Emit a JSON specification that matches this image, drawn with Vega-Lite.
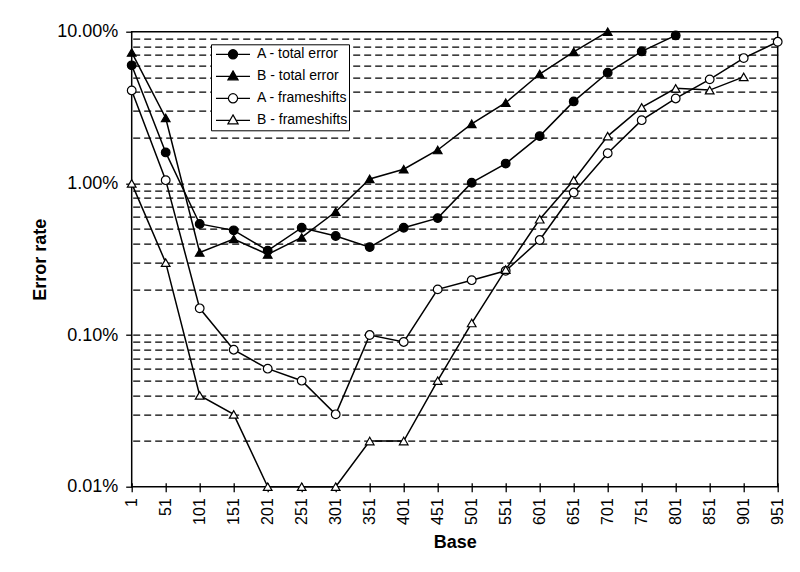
{
  "$schema": "https://vega.github.io/schema/vega-lite/v6.json",
  "width": 646,
  "height": 455,
  "autosize": {"type": "none"},
  "padding": {"left": 131.7, "top": 31.7, "right": 22.3, "bottom": 85.3},
  "background": "white",
  "config": {
    "font": "Liberation Sans",
    "view": {"stroke": "black", "strokeWidth": 1.5},
    "axis": {"labelColor": "black", "titleColor": "black", "tickColor": "black", "domainColor": "black", "labelFont": "Liberation Sans", "titleFont": "Liberation Sans"}
  },
  "data": {
    "values": [
      {"base": 1, "series": "A - total error", "rate": 0.060},
      {"base": 51, "series": "A - total error", "rate": 0.016},
      {"base": 101, "series": "A - total error", "rate": 0.0054},
      {"base": 151, "series": "A - total error", "rate": 0.0049},
      {"base": 201, "series": "A - total error", "rate": 0.0036},
      {"base": 251, "series": "A - total error", "rate": 0.0051},
      {"base": 301, "series": "A - total error", "rate": 0.0045},
      {"base": 351, "series": "A - total error", "rate": 0.0038},
      {"base": 401, "series": "A - total error", "rate": 0.0051},
      {"base": 451, "series": "A - total error", "rate": 0.0059},
      {"base": 501, "series": "A - total error", "rate": 0.0101},
      {"base": 551, "series": "A - total error", "rate": 0.0135},
      {"base": 601, "series": "A - total error", "rate": 0.0205},
      {"base": 651, "series": "A - total error", "rate": 0.0347},
      {"base": 701, "series": "A - total error", "rate": 0.0536},
      {"base": 751, "series": "A - total error", "rate": 0.0741},
      {"base": 801, "series": "A - total error", "rate": 0.0945},
      {"base": 1, "series": "B - total error", "rate": 0.073},
      {"base": 51, "series": "B - total error", "rate": 0.027},
      {"base": 101, "series": "B - total error", "rate": 0.0035},
      {"base": 151, "series": "B - total error", "rate": 0.0043},
      {"base": 201, "series": "B - total error", "rate": 0.0034},
      {"base": 251, "series": "B - total error", "rate": 0.0044},
      {"base": 301, "series": "B - total error", "rate": 0.0065},
      {"base": 351, "series": "B - total error", "rate": 0.0107},
      {"base": 401, "series": "B - total error", "rate": 0.0124},
      {"base": 451, "series": "B - total error", "rate": 0.0166},
      {"base": 501, "series": "B - total error", "rate": 0.0247},
      {"base": 551, "series": "B - total error", "rate": 0.034},
      {"base": 601, "series": "B - total error", "rate": 0.0526},
      {"base": 651, "series": "B - total error", "rate": 0.0737},
      {"base": 701, "series": "B - total error", "rate": 0.100},
      {"base": 1, "series": "A - frameshifts", "rate": 0.041},
      {"base": 51, "series": "A - frameshifts", "rate": 0.0105},
      {"base": 101, "series": "A - frameshifts", "rate": 0.0015},
      {"base": 151, "series": "A - frameshifts", "rate": 0.0008},
      {"base": 201, "series": "A - frameshifts", "rate": 0.0006},
      {"base": 251, "series": "A - frameshifts", "rate": 0.0005},
      {"base": 301, "series": "A - frameshifts", "rate": 0.0003},
      {"base": 351, "series": "A - frameshifts", "rate": 0.001},
      {"base": 401, "series": "A - frameshifts", "rate": 0.0009},
      {"base": 451, "series": "A - frameshifts", "rate": 0.002},
      {"base": 501, "series": "A - frameshifts", "rate": 0.0023},
      {"base": 551, "series": "A - frameshifts", "rate": 0.00265},
      {"base": 601, "series": "A - frameshifts", "rate": 0.00423},
      {"base": 651, "series": "A - frameshifts", "rate": 0.0087},
      {"base": 701, "series": "A - frameshifts", "rate": 0.0158},
      {"base": 751, "series": "A - frameshifts", "rate": 0.0261},
      {"base": 801, "series": "A - frameshifts", "rate": 0.0363},
      {"base": 851, "series": "A - frameshifts", "rate": 0.0485},
      {"base": 901, "series": "A - frameshifts", "rate": 0.067},
      {"base": 951, "series": "A - frameshifts", "rate": 0.0858},
      {"base": 1, "series": "B - frameshifts", "rate": 0.01},
      {"base": 51, "series": "B - frameshifts", "rate": 0.003},
      {"base": 101, "series": "B - frameshifts", "rate": 0.0004},
      {"base": 151, "series": "B - frameshifts", "rate": 0.0003},
      {"base": 201, "series": "B - frameshifts", "rate": 0.0001},
      {"base": 251, "series": "B - frameshifts", "rate": 0.0001},
      {"base": 301, "series": "B - frameshifts", "rate": 0.0001},
      {"base": 351, "series": "B - frameshifts", "rate": 0.0002},
      {"base": 401, "series": "B - frameshifts", "rate": 0.0002},
      {"base": 451, "series": "B - frameshifts", "rate": 0.0005},
      {"base": 501, "series": "B - frameshifts", "rate": 0.0012},
      {"base": 551, "series": "B - frameshifts", "rate": 0.0027},
      {"base": 601, "series": "B - frameshifts", "rate": 0.0058},
      {"base": 651, "series": "B - frameshifts", "rate": 0.0105},
      {"base": 701, "series": "B - frameshifts", "rate": 0.0205},
      {"base": 751, "series": "B - frameshifts", "rate": 0.0317},
      {"base": 801, "series": "B - frameshifts", "rate": 0.0423},
      {"base": 851, "series": "B - frameshifts", "rate": 0.0412},
      {"base": 901, "series": "B - frameshifts", "rate": 0.0504}
    ]
  },
  "encoding": {
    "x": {
      "field": "base",
      "type": "quantitative",
      "scale": {"domain": [1, 951], "nice": false, "zero": false},
      "axis": {
        "title": "Base",
        "titleFontSize": 18,
        "titleFontWeight": "bold",
        "titlePadding": 9,
        "values": [1, 51, 101, 151, 201, 251, 301, 351, 401, 451, 501, 551, 601, 651, 701, 751, 801, 851, 901, 951],
        "labelAngle": 270,
        "labelFontSize": 16,
        "labelFlush": false,
        "labelOverlap": false,
        "labelPadding": 6,
        "tickSize": 9,
        "tickWidth": 1.3,
        "offset": -4,
        "domain": false,
        "grid": false
      }
    }
  },
  "layer": [
    {
      "mark": {"type": "line", "color": "black", "strokeWidth": 1.5, "clip": false},
      "encoding": {
        "y": {
          "field": "rate",
          "type": "quantitative",
          "scale": {"type": "log", "domain": [0.0001, 0.1], "nice": false},
          "axis": {
            "title": "Error rate",
            "titleFontSize": 18,
            "titleFontWeight": "bold",
            "titlePadding": 7,
            "values": [0.0001, 0.001, 0.01, 0.1],
            "format": ".2%",
            "labelFontSize": 18,
            "labelPadding": 8,
            "tickSize": 6,
            "tickWidth": 1.3,
            "domain": false,
            "grid": false
          }
        },
        "detail": {"field": "series"},
        "order": {"field": "base", "type": "quantitative"}
      }
    },
    {
      "mark": {"type": "point", "filled": true, "size": 75, "stroke": "black", "strokeWidth": 1.2, "opacity": 1, "clip": false},
      "encoding": {
        "y": {
          "field": "rate",
          "type": "quantitative",
          "axis": {
            "orient": "right",
            "title": null,
            "values": [0.0002, 0.0003, 0.0004, 0.0005, 0.0006, 0.0007, 0.0008, 0.0009, 0.001, 0.002, 0.003, 0.004, 0.005, 0.006, 0.007, 0.008, 0.009, 0.01, 0.02, 0.03, 0.04, 0.05, 0.06, 0.07, 0.08, 0.09],
            "labels": false,
            "ticks": false,
            "domain": false,
            "grid": true,
            "gridColor": "black",
            "gridDash": [7, 4],
            "gridWidth": 1.3,
            "gridOpacity": 1
          }
        },
        "shape": {
          "field": "series",
          "type": "nominal",
          "scale": {"domain": ["A - total error", "B - total error", "A - frameshifts", "B - frameshifts"], "range": ["circle", "triangle-up", "circle", "triangle-up"]},
          "legend": null
        },
        "fill": {
          "field": "series",
          "type": "nominal",
          "scale": {"domain": ["A - total error", "B - total error", "A - frameshifts", "B - frameshifts"], "range": ["black", "black", "white", "white"]},
          "legend": null
        }
      }
    },
    {
      "mark": {"type": "point", "filled": true, "size": 75, "stroke": "black", "strokeWidth": 1.2, "opacity": 0, "clip": false},
      "encoding": {
        "y": {"field": "rate", "type": "quantitative", "axis": null},
        "shape": {
          "field": "series",
          "type": "nominal",
          "scale": {"domain": ["A - total error", "B - total error", "A - frameshifts", "B - frameshifts"], "range": [
            "M-1,0L-0.27,0M0.27,0L1,0M0.27,0A0.27,0.27,0,1,1,-0.27,0A0.27,0.27,0,1,1,0.27,0Z",
            "M-1,0L-0.18,0M0.18,0L1,0M0,-0.32L0.3,0.21L-0.3,0.21Z",
            "M-1,0L-0.27,0M0.27,0L1,0M0.27,0A0.27,0.27,0,1,1,-0.27,0A0.27,0.27,0,1,1,0.27,0Z",
            "M-1,0L-0.18,0M0.18,0L1,0M0,-0.32L0.3,0.21L-0.3,0.21Z"
          ]},
          "legend": {
            "title": null,
            "orient": "none",
            "legendX": 79.3,
            "legendY": 12.6,
            "strokeColor": "black",
            "fillColor": "white",
            "padding": 1,
            "clipHeight": 18,
            "rowPadding": 4,
            "symbolSize": 1156,
            "symbolStrokeWidth": 1.2,
            "symbolOpacity": 1,
            "symbolOffset": 3,
            "labelOffset": 6,
            "labelFontSize": 14,
            "labelColor": "black",
            "labelFont": "Liberation Sans",
            "labelLimit": 300,
            "encode": {
              "symbols": {
                "update": {
                  "stroke": {"value": "black"},
                  "strokeWidth": {"value": 1.2},
                  "strokeOpacity": {"value": 1}
                }
              }
            }
          }
        },
        "fill": {
          "field": "series",
          "type": "nominal",
          "scale": {"domain": ["A - total error", "B - total error", "A - frameshifts", "B - frameshifts"], "range": ["black", "black", "white", "white"]},
          "legend": {
            "title": null,
            "orient": "none",
            "legendX": 79.3,
            "legendY": 12.6,
            "strokeColor": "black",
            "fillColor": "white",
            "padding": 1,
            "clipHeight": 18,
            "rowPadding": 4,
            "symbolSize": 1156,
            "symbolStrokeWidth": 1.2,
            "symbolOpacity": 1,
            "symbolOffset": 3,
            "labelOffset": 6,
            "labelFontSize": 14,
            "labelColor": "black",
            "labelFont": "Liberation Sans",
            "labelLimit": 300,
            "encode": {
              "symbols": {
                "update": {
                  "stroke": {"value": "black"},
                  "strokeWidth": {"value": 1.2},
                  "strokeOpacity": {"value": 1}
                }
              }
            }
          }
        }
      }
    }
  ],
  "resolve": {"axis": {"y": "independent"}, "scale": {"shape": "independent", "fill": "independent"}}
}
